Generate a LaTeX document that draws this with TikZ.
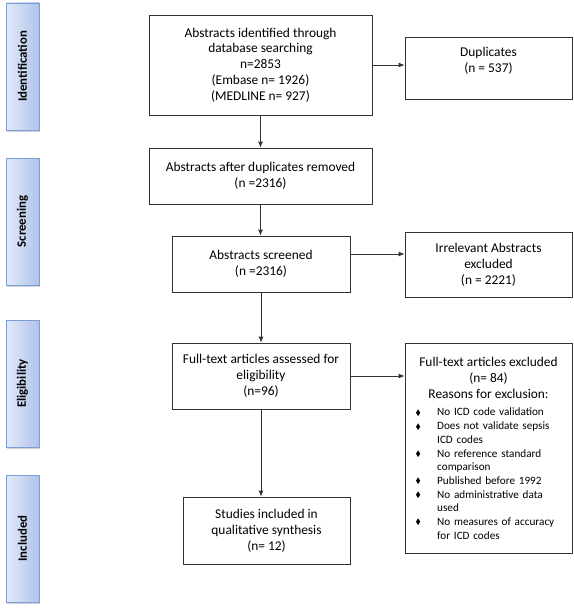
\documentclass[tikz,border=0pt]{standalone}
\usepackage{fontspec}
\setmainfont{Carlito}
\usepackage{amssymb}
\usepackage{graphicx}
\usetikzlibrary{arrows.meta,shadows}
\definecolor{phaseborder}{HTML}{7B9ED6}
\definecolor{phaseL}{HTML}{E4EAF8}
\definecolor{phaseR}{HTML}{AFC3EC}
\newcommand\exbul[1]{\par\noindent\hangindent=23pt\hangafter=1\makebox[23pt][l]{\hspace{1.5pt}\raisebox{0.6pt}{\scalebox{0.7}{$\blacklozenge$}}}#1\par}
\begin{document}
\begin{tikzpicture}[x=1pt,y=-1pt,
  box/.style={draw=black!80, line width=0.8pt, align=center, inner sep=2pt, font=\fontsize{13.4}{15.8}\selectfont},
  phase/.style={draw=phaseborder, line width=0.8pt, left color=phaseL, right color=phaseR,
    minimum width=33pt, minimum height=127pt, inner sep=0pt,
    font=\bfseries\fontsize{12.8}{14}\selectfont,
    drop shadow={shadow xshift=1pt, shadow yshift=-1.5pt, opacity=0.35}},
  arr/.style={-{Latex[length=6pt,width=5pt]}, draw=black!80, line width=0.8pt}]
\useasboundingbox (0,0) rectangle (573,610);
% phase labels
\node[phase] (pid) at (22.5,66.5) {\rotatebox{90}{Identification}};
\node[phase] (psc) at (22.5,221.5) {\rotatebox{90}{Screening}};
\node[phase] (pel) at (22.5,383.5) {\rotatebox{90}{Eligibility}};
\node[phase] (pin) at (22.5,538.5) {\rotatebox{90}{Included}};
% main boxes
\node[box, minimum width=223pt, minimum height=100pt] (b1) at (260.5,65)
  {Abstracts identified through\\database searching\\n=2853\\(Embase n= 1926)\\(MEDLINE n= 927)};
\node[box, minimum width=167pt, minimum height=62pt] (dup) at (488.5,68)
  {Duplicates\\(n = 537)\\\mbox{}};
\node[box, minimum width=223pt, minimum height=56pt] (b2) at (260.5,176)
  {Abstracts after duplicates removed\\(n =2316)};
\node[box, minimum width=178pt, minimum height=56pt] (scr) at (261,264)
  {Abstracts screened\\(n =2316)};
\node[box, minimum width=167pt, minimum height=65pt] (irr) at (488.5,264.5)
  {Irrelevant Abstracts\\excluded\\(n = 2221)};
\node[box, minimum width=178pt, minimum height=66pt] (ft) at (261,376)
  {Full-text articles assessed for\\eligibility\\(n=96)};
\node[box, minimum width=167pt, minimum height=67pt] (st) at (266.5,530.5)
  {Studies included in\\qualitative synthesis\\(n= 12)};
\node[box, minimum width=167pt, minimum height=210pt] (ex) at (488.5,448) {};
\node[align=center, inner sep=0pt, font=\fontsize{13.4}{16}\selectfont] (exh) at (488.5,378)
  {Full-text articles excluded\\(n= 84)\\Reasons for exclusion:};
\node[anchor=north west, inner sep=0pt, text width=155pt, align=left, font=\fontsize{11.2}{13.7}\selectfont] (exl) at (414,402)
  {\exbul{No ICD code validation}
   \exbul{Does not validate sepsis\newline ICD codes}
   \exbul{No reference standard\newline comparison}
   \exbul{Published before 1992}
   \exbul{No administrative data\newline used}
   \exbul{No measures of accuracy\newline for ICD codes}};
% connectors
\draw[arr] (b1.south) -- (b2.north);
\draw[arr] (b2.south) -- (b2.south |- scr.north);
\draw[arr] (scr.south) -- (scr.south |- ft.north);
\draw[arr] (ft.south) -- (ft.south |- st.north);
\draw[arr] (b1.east) -- (b1.east -| dup.west);
\draw[arr] ([yshift=10pt]scr.east) -- ([yshift=10pt]scr.east -| irr.west);
\draw[arr] (ft.east) -- (ft.east -| ex.west);
\end{tikzpicture}
\end{document}
